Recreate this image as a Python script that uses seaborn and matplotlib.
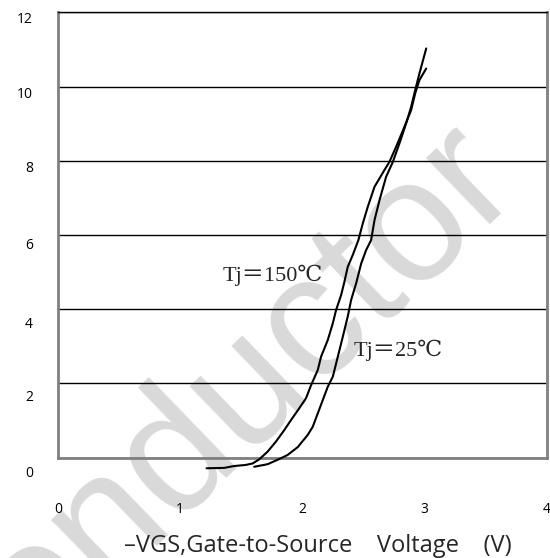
import matplotlib
matplotlib.use('Agg')
import matplotlib.pyplot as plt
import seaborn as sns
import pandas as pd
from matplotlib.transforms import ScaledTranslation

# curve readings (x: -VGS in V, y: drain current)
vgs_150 = [1.215, 1.359, 1.441, 1.537, 1.592, 1.646, 1.715, 1.783, 1.851, 1.906, 1.974,
           2.029, 2.070, 2.125, 2.152, 2.207, 2.248, 2.275, 2.316, 2.343, 2.370, 2.411,
           2.457, 2.493, 2.534, 2.589, 2.670, 2.711, 2.766, 2.834, 2.889, 2.922, 2.957, 3.012]
id_150 = [-0.29, -0.28, -0.23, -0.20, -0.16, -0.05, 0.16, 0.43, 0.74, 1.01, 1.33,
          1.60, 1.95, 2.36, 2.72, 3.17, 3.62, 3.98, 4.38, 4.74, 5.14, 5.46,
          5.86, 6.31, 6.76, 7.30, 7.75, 7.97, 8.38, 8.92, 9.37, 9.82, 10.18, 10.49]
vgs_25 = [1.605, 1.715, 1.824, 1.879, 1.961, 2.043, 2.084, 2.125, 2.166, 2.207, 2.248,
          2.289, 2.330, 2.370, 2.398, 2.439, 2.480, 2.520, 2.561, 2.589, 2.630, 2.684,
          2.739, 2.793, 2.848, 2.889, 2.922, 2.957, 3.012]
id_25 = [-0.25, -0.18, -0.02, 0.07, 0.28, 0.61, 0.83, 1.19, 1.55, 1.91, 2.18,
         2.72, 3.26, 3.80, 4.25, 4.70, 5.23, 5.59, 5.86, 6.40, 6.94, 7.57,
         7.97, 8.47, 9.01, 9.46, 9.91, 10.36, 11.03]

x_ticks = [0, 1, 2, 3, 4]
y_ticks = [0, 2, 4, 6, 8, 10, 12]
# the scanned tick labels sit a little below their gridlines (pixels)
y_label_drop = [14, 12, 13.5, 8, 5.5, 5.7, 5.5]

df = pd.concat([
    pd.DataFrame({'vgs': vgs_150, 'id': id_150, 'tj': '150'}),
    pd.DataFrame({'vgs': vgs_25, 'id': id_25, 'tj': '25'}),
])

sns.set_theme(style='white')
plt.rcParams['font.family'] = ['Open Sans', 'DejaVu Sans']

fig = plt.figure(figsize=(5.5, 5.58), dpi=100)
ax = fig.add_axes([0.1055, 0.1801, 0.889, 0.7975])

sns.lineplot(data=df, x='vgs', y='id', hue='tj', palette=['black', 'black'],
             estimator=None, sort=False, legend=False, linewidth=1.5, ax=ax)
for line in ax.lines:
    line.set_clip_on(False)
    line.set_zorder(3)

ax.set_xlim(0, 4)
ax.set_ylim(0, 12)
ax.set_xticks(x_ticks)
ax.set_yticks(y_ticks)
ax.set_xlabel('')
ax.set_ylabel('')

ax.set_axisbelow(True)
ax.yaxis.grid(True, color='black', linewidth=1)
ax.xaxis.grid(False)

for side in ['left', 'bottom', 'right']:
    ax.spines[side].set_color('#808080')
    ax.spines[side].set_linewidth(2)
ax.spines['top'].set_color('black')
ax.spines['top'].set_linewidth(1)

ax.tick_params(axis='both', length=0, labelsize=10, colors='black')
ax.tick_params(axis='x', pad=32)
ax.tick_params(axis='y', pad=18)

for lab, drop in zip(ax.get_yticklabels(), y_label_drop):
    lab.set_transform(lab.get_transform() + ScaledTranslation(0, -drop / 100, fig.dpi_scale_trans))

# watermark
ax.text(0.451, 0.305, 'onductor', transform=fig.transFigure, rotation=44,
        fontsize=125, color='#d9d9d9', ha='center', va='center',
        family='Liberation Sans', zorder=0.2, clip_on=False)

serif = ['Liberation Serif', 'DejaVu Serif', 'Noto Sans CJK JP']
ax.text(1.348, 4.92, 'Tj＝150℃', fontsize=16, va='center', family=serif, zorder=4)
ax.text(2.414, 2.90, 'Tj＝25℃', fontsize=16, va='center', family=serif, zorder=4)

fig.text(318 / 550, 1 - 546 / 558, '–VGS,Gate-to-Source    Voltage    (V)',
         fontsize=17, ha='center', va='center')

fig.savefig('out.png', dpi=100)
